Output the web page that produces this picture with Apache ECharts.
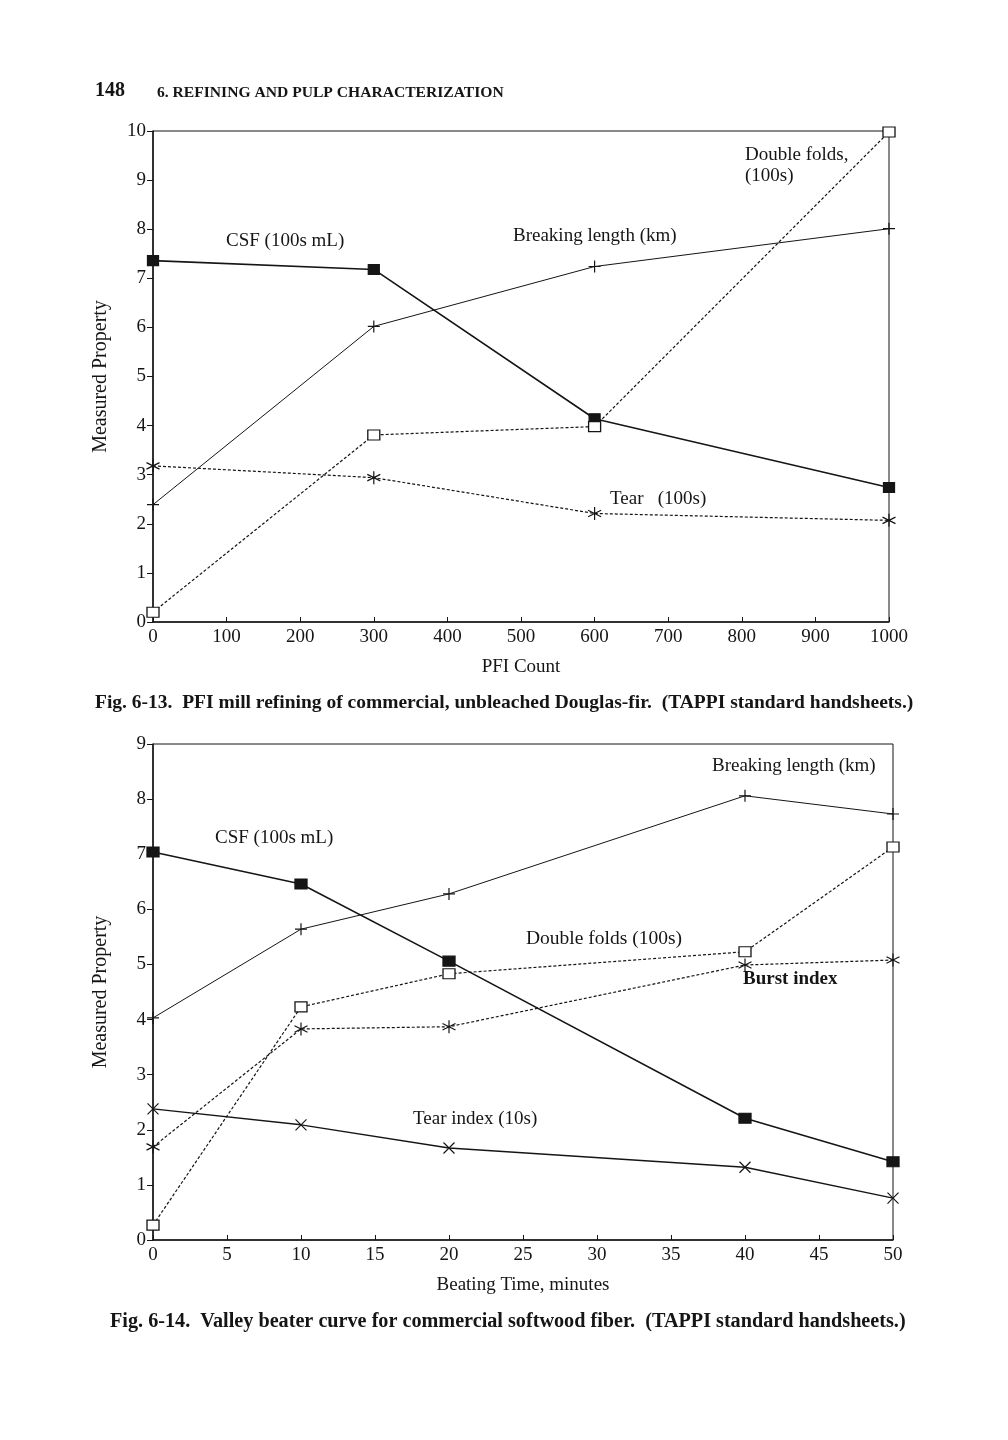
<!DOCTYPE html>
<html><head><meta charset="utf-8">
<script src="https://cdn.jsdelivr.net/npm/echarts@6/dist/echarts.min.js"></script>
<style>html,body{margin:0;padding:0;background:#fff}#c{width:1008px;height:1440px}</style>
</head><body><div id="c"></div>
<script>
// ---- Fig. 6-13 data ----
const pfiCount   = [0, 300, 600, 1000];
const csf1       = [7.36, 7.18, 4.14, 2.74];
const breaking1  = [2.39, 6.02, 7.24, 8.01];
const folds1     = [0.20, 3.81, 3.98, 9.98];
const tear1      = [3.18, 2.94, 2.21, 2.07];
// ---- Fig. 6-14 data ----
const beatingTime = [0, 10, 20, 40, 50];
const csf2        = [7.04, 6.46, 5.06, 2.21, 1.42];
const breaking2   = [4.03, 5.64, 6.28, 8.06, 7.73];
const folds2      = [0.27, 4.23, 4.83, 5.23, 7.13];
const burst2      = [1.69, 3.83, 3.87, 4.99, 5.08];
const tear2       = [2.38, 2.09, 1.67, 1.32, 0.76];
// ---- axis ranges / labels ----
const xRange1 = [0, 1000, 100];
const yRange1 = [0, 10, 1];
const xRange2 = [0, 50, 5];
const yRange2 = [0, 9, 1];
const xName1 = 'PFI Count';
const xName2 = 'Beating Time, minutes';
const yName = 'Measured Property';

const FONT = '"Liberation Serif", "Times New Roman", serif';
const INK = '#151515';
const pairs = (xs, ys) => xs.map((x, i) => [x, ys[i]]);

const SYM_PLUS = 'path://M50,0L50,100M0,50L100,50';
const SYM_X = 'path://M0,0L100,100M100,0L0,100';
const SYM_AST = 'path://M50,0L50,100M7,25L93,75M7,75L93,25';
const DOT = [3, 2];

function mkX(idx, r, name) {
  return {
    gridIndex: idx, type: 'value', min: r[0], max: r[1], interval: r[2],
    name: name, nameLocation: 'middle', nameGap: 36,
    nameTextStyle: {fontFamily: FONT, fontSize: 19, color: INK},
    axisLine: {lineStyle: {color: INK, width: 1.5}},
    axisTick: {inside: true, length: 5, lineStyle: {color: INK}},
    axisLabel: {fontFamily: FONT, fontSize: 19, color: INK, margin: 6, formatter: v => String(v)},
    splitLine: {show: false}
  };
}
function mkY(idx, r) {
  return {
    gridIndex: idx, type: 'value', min: r[0], max: r[1], interval: r[2],
    name: yName, nameLocation: 'middle', nameGap: 42, nameRotate: 90,
    nameTextStyle: {fontFamily: FONT, fontSize: 20, color: INK},
    axisLine: {show: true, lineStyle: {color: INK, width: 1.5}},
    axisTick: {show: true, inside: false, length: 6, lineStyle: {color: INK}},
    axisLabel: {fontFamily: FONT, fontSize: 19, color: INK, margin: 7},
    splitLine: {show: false}
  };
}
function ser(idx, xs, ys, sym, size, lineType, lw, fill) {
  return {
    type: 'line', xAxisIndex: idx, yAxisIndex: idx, data: pairs(xs, ys),
    symbol: sym, symbolSize: size, showAllSymbol: true,
    lineStyle: {color: INK, width: lw, type: lineType},
    itemStyle: {color: fill || INK, borderColor: INK, borderWidth: 1.2},
    z: 3
  };
}
function txt(x, y, s, size, bold) {
  return {type: 'text', left: x, top: y - size * 0.6,
    style: {text: s, fill: INK, font: (bold ? 'bold ' : '') + size + 'px ' + FONT}};
}

const chart = echarts.init(document.getElementById('c'));
chart.setOption({
  animation: false,
  backgroundColor: '#fff',
  grid: [
    {left: 153, top: 131, width: 736, height: 491, show: true, borderColor: INK, borderWidth: 1, backgroundColor: 'transparent'},
    {left: 153, top: 744, width: 740, height: 496, show: true, borderColor: INK, borderWidth: 1, backgroundColor: 'transparent'}
  ],
  xAxis: [mkX(0, xRange1, xName1), mkX(1, xRange2, xName2)],
  yAxis: [mkY(0, yRange1), mkY(1, yRange2)],
  series: [
    ser(0, pfiCount, csf1, 'rect', [11, 10], 'solid', 1.6),
    ser(0, pfiCount, breaking1, SYM_PLUS, 12, 'solid', 1),
    ser(0, pfiCount, folds1, 'rect', [12, 10], DOT, 1.2, '#fff'),
    ser(0, pfiCount, tear1, SYM_AST, 13, DOT, 1.2),
    ser(1, beatingTime, csf2, 'rect', [12, 10], 'solid', 1.6),
    ser(1, beatingTime, breaking2, SYM_PLUS, 12, 'solid', 1),
    ser(1, beatingTime, folds2, 'rect', [12, 10], DOT, 1.2, '#fff'),
    ser(1, beatingTime, burst2, SYM_AST, 13, DOT, 1.2),
    ser(1, beatingTime, tear2, SYM_X, 11, 'solid', 1.4)
  ],
  graphic: [
    txt(95, 93, '148', 20, true),
    txt(157, 94, '6. REFINING AND PULP CHARACTERIZATION', 15.6, true),
    txt(226, 243, 'CSF (100s mL)', 19),
    txt(513, 238, 'Breaking length (km)', 19),
    txt(745, 157, 'Double folds,', 19),
    txt(745, 178, '(100s)', 19),
    txt(610, 501, 'Tear   (100s)', 19),
    txt(95, 705, 'Fig. 6-13.  PFI mill refining of commercial, unbleached Douglas-fir.  (TAPPI standard handsheets.)', 19.5, true),
    txt(712, 768, 'Breaking length (km)', 19),
    txt(215, 840, 'CSF (100s mL)', 19),
    txt(526, 941, 'Double folds (100s)', 19.5),
    txt(743, 981, 'Burst index', 19, true),
    txt(413, 1121, 'Tear index (10s)', 19),
    txt(110, 1324, 'Fig. 6-14.  Valley beater curve for commercial softwood fiber.  (TAPPI standard handsheets.)', 20.2, true)
  ]
});
</script></body></html>
